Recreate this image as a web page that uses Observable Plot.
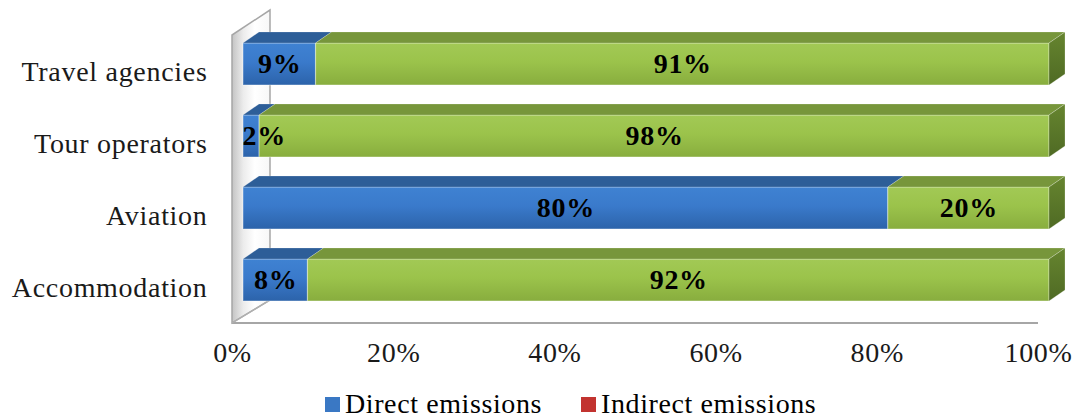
<!DOCTYPE html>
<html>
<head>
<meta charset="utf-8">
<script src="https://cdn.jsdelivr.net/npm/d3@7"></script>
<script src="https://cdn.jsdelivr.net/npm/@observablehq/plot@0.6"></script>
<style>
  body { margin: 0; background: #fff; }
  #wrap { position: relative; width: 1075px; height: 418px; overflow: hidden; font-family: "Liberation Serif", "Times New Roman", serif; }
  #legend { position: absolute; left: 325px; top: 391px; font-size: 28px; line-height: 26px; letter-spacing: 0.6px; white-space: nowrap; color: #000; }
  #legend .item { display: inline-block; }
  #legend .sw { display: inline-block; width: 15px; height: 15px; margin-right: 5px; vertical-align: baseline; position: relative; top: -1px; }
</style>
</head>
<body>
<div id="wrap"><div id="legend"></div></div>
<script>
// ---- data ----
const categories = ["Travel agencies", "Tour operators", "Aviation", "Accommodation"];
const direct   = [0.09, 0.02, 0.80, 0.08];
const indirect = [0.91, 0.98, 0.20, 0.92];
const seriesNames = ["Direct emissions", "Indirect emissions"];
const xTicks = [0, 0.2, 0.4, 0.6, 0.8, 1];

// stacked segments built from the arrays
const segments = categories.flatMap((cat, i) => [
  {cat, series: seriesNames[0], value: direct[i], x1: 0, x2: direct[i], last: false},
  {cat, series: seriesNames[1], value: indirect[i], x1: direct[i], x2: direct[i] + indirect[i], last: true}
]);
const pct = d => Math.round(d.value * 100) + "%";

const plot = Plot.plot({
  width: 1075,
  height: 380,
  marginLeft: 243,
  marginRight: 26,
  marginTop: 28,
  marginBottom: 64,
  style: {fontFamily: "'Liberation Serif', 'Times New Roman', serif", fontSize: "28px", letterSpacing: "0.7px", color: "#000", background: "transparent"},
  x: {domain: [0, 1], label: null},
  y: {domain: categories, paddingInner: 0.42, paddingOuter: 0.21, label: null},
  color: {domain: seriesNames, range: ["url(#gBlue)", "url(#gGreen)"]},
  marks: [
    Plot.barX(segments, {y: "cat", x1: "x1", x2: "x2", fill: "series", stroke: "rgba(255,255,255,0.35)", strokeWidth: 1.2}),
    Plot.axisX(xTicks, {tickFormat: d => Math.round(d * 100) + "%", tickSize: 0, tickPadding: 26, dx: -11, fill: "#1a1a1a", label: null}),
    Plot.axisY({tickSize: 0, tickPadding: 36, dy: 8, fill: "#1a1a1a", label: null}),
    Plot.text(segments.filter(d => d.value >= 0.05), {y: "cat", x: d => (d.x1 + d.x2) / 2, text: pct, fontWeight: "bold", fill: "#000"}),
    Plot.text(segments.filter(d => d.value < 0.05), {y: "cat", x: "x1", text: pct, textAnchor: "start", dx: -1, fontWeight: "bold", fill: "#000"})
  ]
});

document.getElementById("wrap").prepend(plot);

// ---- 3D decoration using Plot's own scales ----
const svg = d3.select(plot);
const X = plot.scale("x"), Y = plot.scale("y");
const bw = Y.bandwidth;
const [yTopR, yBotR] = Y.range;
const depth = [16, -11];      // bar depth
const front = [-11, 7];       // floor/wall front plane
const back = [27, -16];       // wall back plane

const defs = svg.insert("defs", ":first-child");
function vgrad(id, stops, horiz) {
  const g = defs.append("linearGradient").attr("id", id)
    .attr("x1", 0).attr("y1", 0).attr("x2", horiz ? 1 : 0).attr("y2", horiz ? 0 : 1);
  stops.forEach(([o, c]) => g.append("stop").attr("offset", o).attr("stop-color", c));
}
vgrad("gBlue", [[0, "#3f82d2"], [0.45, "#3a7acb"], [1, "#2c63aa"]]);
vgrad("gGreen", [[0, "#a2c955"], [0.45, "#9bc34b"], [1, "#88ad3e"]]);
vgrad("gGreenSide", [[0, "#66852f"], [1, "#4f6a24"]]);
vgrad("gWall", [[0, "#c4c4c4"], [0.3, "#ececec"], [0.6, "#ffffff"], [1, "#f7f7f7"]], true);

const bg = svg.insert("g", "style + *");
const x0 = X.apply(0), x100 = X.apply(1);
const fl = [x0 + front[0], yBotR + front[1]];
// back wall
const wall = [
  [fl[0], fl[1]],
  [fl[0], yTopR + front[1]],
  [x0 + back[0], yTopR + back[1] - 2],
  [x0 + back[0], yBotR + back[1]]
];
bg.append("polygon").attr("points", wall.map(p => p.join(",")).join(" "))
  .attr("fill", "url(#gWall)").attr("stroke", "#a6a6a6").attr("stroke-width", 1.5);
// floor
bg.append("line").attr("x1", fl[0]).attr("y1", fl[1]).attr("x2", x100 + front[0]).attr("y2", fl[1])
  .attr("stroke", "#a6a6a6").attr("stroke-width", 2);
bg.append("line").attr("x1", fl[0]).attr("y1", fl[1]).attr("x2", x0 + back[0]).attr("y2", yBotR + back[1])
  .attr("stroke", "#b0b0b0").attr("stroke-width", 1.2);

// top and side faces
const faces = svg.append("g");
const topColor = {"Direct emissions": "#2d5e98", "Indirect emissions": "#77963b"};
segments.forEach(d => {
  const a = X.apply(d.x1), b = X.apply(d.x2);
  const yt = Y.apply(d.cat), yb = yt + bw;
  const pts = [[a, yt], [b, yt], [b + depth[0], yt + depth[1]], [a + depth[0], yt + depth[1]]];
  faces.append("polygon").attr("points", pts.map(p => p.join(",")).join(" "))
    .attr("fill", topColor[d.series]).attr("stroke", "rgba(255,255,255,0.25)").attr("stroke-width", 0.8);
  if (d.last) {
    const sp = [[b, yt], [b + depth[0], yt + depth[1]], [b + depth[0], yb + depth[1]], [b, yb]];
    faces.append("polygon").attr("points", sp.map(p => p.join(",")).join(" "))
      .attr("fill", "url(#gGreenSide)").attr("stroke", "rgba(255,255,255,0.3)").attr("stroke-width", 0.8);
  }
});
svg.selectAll("g[aria-label='text']").raise();

// ---- legend ----
const legendColors = ["#3a78c4", "#c23330"];
const legend = d3.select("#legend");
seriesNames.forEach((name, i) => {
  const it = legend.append("span").attr("class", "item").style("margin-right", i === 0 ? "39px" : "0");
  it.append("span").attr("class", "sw").style("background", legendColors[i]);
  it.append("span").text(name);
});
</script>
</body>
</html>
